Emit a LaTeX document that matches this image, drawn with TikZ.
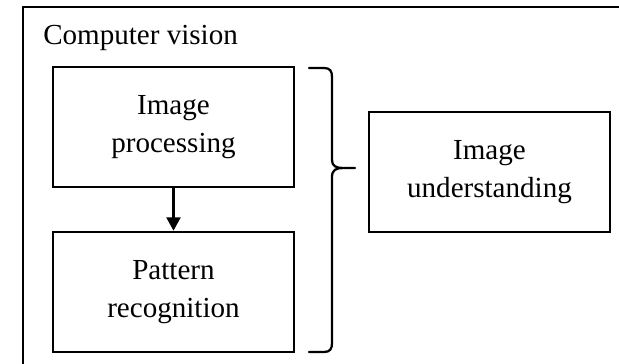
\documentclass[tikz,border=0pt]{standalone}
\usepackage{fontspec}
\setmainfont{Liberation Serif}
\usetikzlibrary{arrows.meta}
\tikzset{
  stage/.style={draw, line width=2pt, minimum width=180.75pt, minimum height=90pt,
    align=center, inner sep=0pt, font=\fontsize{21.8}{28}\selectfont},
}
\begin{document}
\begin{tikzpicture}[x=0.75pt, y=-0.75pt, >={Triangle[length=10pt, width=10.5pt]}]
  \useasboundingbox (0,0) rectangle (619,364);
  % Frame, cut off at right and bottom
  \draw[line width=1.6pt] (23,364) -- (23,7) -- (619,7);
  \node[anchor=base west, inner sep=0pt, font=\fontsize{21.8}{28}\selectfont] (title) at (43,45) {Computer vision};
  % Two stages on the left
  \node[stage] (proc) at (173.5,127) {Image\\processing};
  \node[stage] (patt) at (173.5,292) {Pattern\\recognition};
  \draw[->, line width=1.8pt] (proc) -- (patt);
  % Brace
  \draw[line width=1.7pt, line cap=round, line join=round]
    (309,68) -- (324,68) .. controls (330,68) and (332,71) .. (332,77)
    -- (332,160) .. controls (332,166) and (336,168) .. (343,168) -- (355,168)
    (343,168) .. controls (336,168) and (332,170) .. (332,177)
    -- (332,343) .. controls (332,349) and (330,352) .. (324,352) -- (309,352);
  % Result
  \node[stage] (und) at (489.5,172) {Image\\understanding};
\end{tikzpicture}
\end{document}
